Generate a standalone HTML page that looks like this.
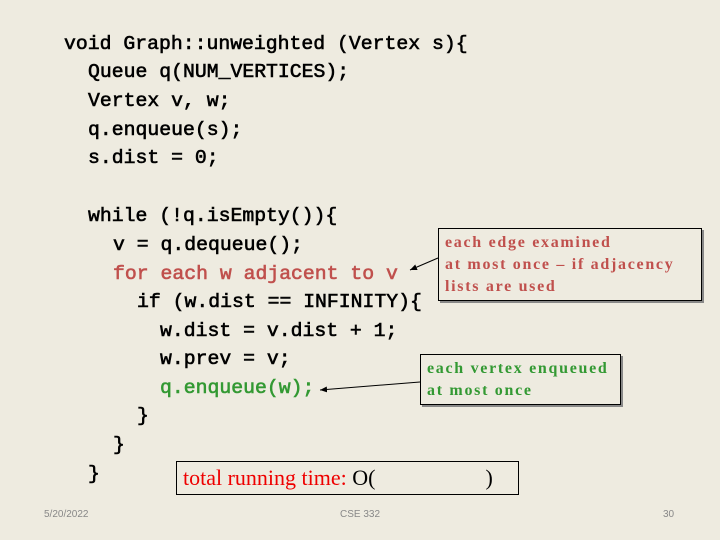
<!DOCTYPE html>
<html><head><style>
body{margin:0;width:720px;height:540px;background:#eeebe0;position:relative;overflow:hidden}
.c{position:absolute;font-family:"Liberation Mono",monospace;font-weight:normal;-webkit-text-stroke:0.6px currentColor;font-size:19.8px;color:#000;white-space:pre;line-height:20px}
.r{color:#c0504d}.g{color:#339933}
.box{position:absolute;border:1px solid #000;box-shadow:2px 2px 0 #888;font-family:"Liberation Serif",serif;font-weight:bold;font-size:16px;letter-spacing:1.7px;line-height:22px;padding:3px 6px;box-sizing:border-box;white-space:nowrap}
.f{position:absolute;font-family:"Liberation Sans",sans-serif;font-size:10px;color:#888}
</style></head><body>
<div class="c" style="left:64px;top:34px">void Graph::unweighted (Vertex s){</div>
<div class="c" style="left:88px;top:62px">Queue q(NUM_VERTICES);</div>
<div class="c" style="left:88px;top:91px">Vertex v, w;</div>
<div class="c" style="left:88px;top:120px">q.enqueue(s);</div>
<div class="c" style="left:88px;top:148px">s.dist = 0;</div>
<div class="c" style="left:88px;top:206px">while (!q.isEmpty()){</div>
<div class="c" style="left:113px;top:235px">v = q.dequeue();</div>
<div class="c r" style="left:113px;top:264px">for each w adjacent to v</div>
<div class="c" style="left:137px;top:292px">if (w.dist == INFINITY){</div>
<div class="c" style="left:160px;top:321px">w.dist = v.dist + 1;</div>
<div class="c" style="left:160px;top:349px">w.prev = v;</div>
<div class="c g" style="left:160px;top:378px">q.enqueue(w);</div>
<div class="c" style="left:137px;top:406px">}</div>
<div class="c" style="left:113px;top:435px">}</div>
<div class="c" style="left:88px;top:464px">}</div>
<div class="box r" style="left:438px;top:228px;width:264px;height:73px">each edge examined<br>at most once – if adjacency<br>lists are used</div>
<div class="box g" style="left:420px;top:354px;width:201px;height:51px">each vertex enqueued<br>at most once</div>
<svg style="position:absolute;left:0;top:0" width="720" height="540">
<defs><marker id="a" markerWidth="8" markerHeight="8" refX="7" refY="4" orient="auto"><path d="M0,1 L7,4 L0,7z" fill="#000"/></marker></defs>
<line x1="438" y1="258" x2="410" y2="270" stroke="#000" stroke-width="1" marker-end="url(#a)"/>
<line x1="420" y1="382" x2="320" y2="390" stroke="#000" stroke-width="1" marker-end="url(#a)"/>
</svg>
<div style="position:absolute;left:176px;top:461px;width:343px;height:34px;border:1px solid #000;box-sizing:border-box;font-family:'Liberation Serif',serif;font-size:22px;line-height:32px;padding-left:6px;color:#e00;white-space:nowrap">total running time: <span style="color:#000">O(&nbsp;&nbsp;&nbsp;&nbsp;&nbsp;&nbsp;&nbsp;&nbsp;&nbsp;&nbsp;&nbsp;&nbsp;&nbsp;&nbsp;&nbsp;&nbsp;&nbsp;&nbsp;&nbsp;&nbsp;)</span></div>
<div class="f" style="left:44px;top:509px">5/20/2022</div>
<div class="f" style="left:340px;top:509px">CSE 332</div>
<div class="f" style="left:663px;top:509px">30</div>
</body></html>
